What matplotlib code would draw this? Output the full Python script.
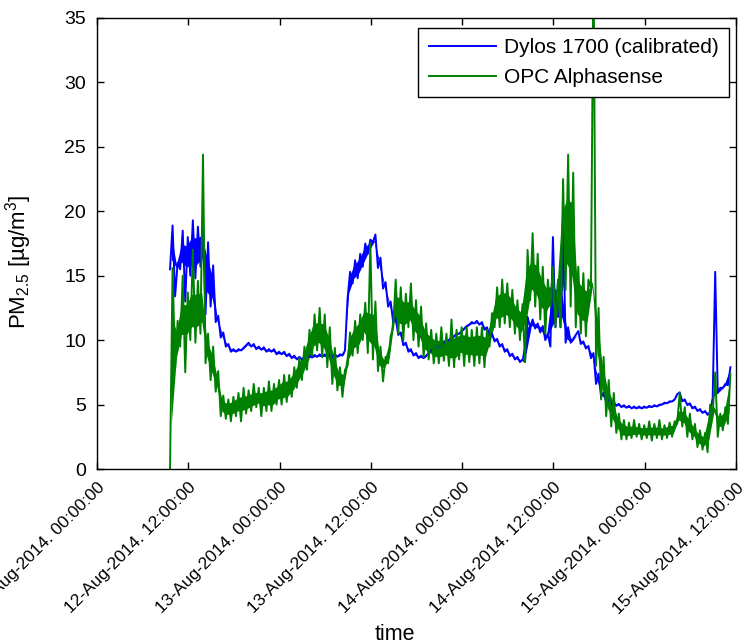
import numpy as np
import pandas as pd
import matplotlib
matplotlib.use("Agg")
import matplotlib.pyplot as plt
import matplotlib.dates as mdates

plt.rcParams["font.family"] = ["Liberation Sans", "DejaVu Sans"]

# ---------------------------------------------------------------------------
# Data: one sample every 40 min, low/high of the noise band
# ---------------------------------------------------------------------------
start = "2014-08-12 09:36"
n_samples = 111
step = "40min"

dylos_lo = [
    15.5, 13.4, 15.5, 13.0, 15.0, 14.8, 15.7, 12.0, 12.6, 11.4,
    10.2, 9.5, 9.1, 9.1, 9.2, 9.6, 9.5, 9.3, 9.25, 9.1,
    9.1, 8.9, 8.9, 8.75, 8.6, 8.5, 8.5, 8.6, 8.65, 8.7,
    8.7, 8.7, 8.7, 8.7, 8.8, 13.2, 14.4, 14.8, 15.7, 16.7,
    17.6, 15.6, 14.0, 12.6, 11.4, 10.4, 9.6, 9.1, 8.8, 8.6,
    8.6, 9.0, 9.25, 9.5, 9.8, 10.0, 10.3, 10.5, 10.9, 11.2,
    11.3, 11.2, 10.8, 10.3, 9.9, 9.5, 9.1, 8.75, 8.5, 8.3,
    8.3, 11.0, 10.9, 10.6, 10.0, 9.5, 11.0, 11.0, 9.8, 9.8,
    10.4, 9.7, 9.35, 8.6, 6.6, 5.6, 5.2, 5.0, 4.9, 4.8,
    4.75, 4.7, 4.7, 4.7, 4.75, 4.8, 4.85, 5.0, 5.1, 5.25,
    5.8, 5.25, 4.95, 4.7, 4.5, 4.35, 4.2, 5.5, 5.9, 6.3, 6.5,
]
dylos_hi = [
    18.9, 16.0, 18.5, 18.0, 19.3, 18.8, 18.9, 17.6, 15.8, 11.9,
    10.6, 9.7, 9.3, 9.3, 9.4, 9.8, 9.7, 9.5, 9.45, 9.3,
    9.3, 9.1, 9.1, 8.95, 8.8, 8.7, 8.7, 8.8, 8.85, 8.9,
    8.9, 8.9, 8.9, 8.9, 9.2, 15.3, 16.2, 16.7, 17.5, 17.8,
    18.2, 16.4, 14.5, 13.0, 11.7, 10.6, 9.8, 9.3, 9.0, 8.8,
    8.8, 9.2, 9.45, 9.7, 10.0, 10.2, 10.5, 10.7, 11.1, 11.4,
    11.5, 11.4, 11.0, 10.5, 10.1, 9.7, 9.3, 8.95, 8.7, 8.5,
    11.8, 11.6, 11.3, 11.1, 10.5, 18.0, 14.5, 19.5, 11.0, 10.1,
    10.7, 9.9, 9.55, 9.0, 7.4, 5.9, 5.4, 5.2, 5.05, 4.95,
    4.9, 4.85, 4.85, 4.85, 4.9, 4.95, 5.0, 5.15, 5.25, 5.4,
    5.95, 5.4, 5.1, 4.85, 4.65, 4.5, 4.4, 15.3, 6.3, 6.6, 7.9,
]
opc_lo = [
    0.0, 7.8, 9.5, 7.5, 10.0, 9.8, 10.5, 8.2, 6.9, 6.0,
    4.1, 3.9, 3.7, 4.1, 3.7, 4.3, 4.5, 4.8, 4.1, 4.5,
    4.5, 5.0, 5.0, 5.2, 5.6, 6.3, 6.9, 7.7, 8.8, 9.2,
    8.7, 7.9, 6.6, 6.1, 5.6, 8.0, 8.8, 9.0, 10.0, 9.0,
    8.5, 7.6, 6.8, 8.2, 11.0, 10.5, 10.0, 11.0, 10.0, 9.5,
    8.7, 8.5, 8.2, 8.2, 8.4, 8.0, 7.9, 8.5, 8.0, 8.3,
    8.0, 8.2, 7.9, 9.5, 11.0, 11.0, 11.3, 11.0, 10.5, 10.0,
    8.3, 13.1, 12.6, 11.6, 10.5, 12.6, 11.0, 11.0, 13.9, 12.6,
    11.0, 10.5, 10.3, 14.0, 8.0, 5.4, 4.1, 3.3, 2.8, 2.3,
    2.3, 2.4, 2.5, 2.3, 2.4, 2.2, 2.4, 2.3, 2.4, 2.5,
    3.5, 3.3, 2.5, 2.3, 1.7, 1.5, 1.3, 4.3, 2.5, 3.0, 3.5,
]
opc_hi = [
    15.6, 11.5, 15.0, 13.7, 17.0, 14.6, 24.4, 10.5, 9.5, 7.6,
    5.7, 5.4, 5.6, 5.9, 6.3, 6.1, 6.6, 6.3, 6.3, 6.8,
    6.6, 6.9, 7.3, 7.3, 7.9, 8.6, 9.5, 10.8, 12.0, 12.5,
    12.0, 11.0, 9.4, 7.9, 7.7, 10.6, 11.5, 12.0, 12.9, 17.5,
    13.0, 9.5, 8.7, 10.3, 14.7, 14.1, 13.6, 14.4, 13.1, 12.6,
    11.3, 10.8, 10.5, 11.0, 10.5, 11.6, 10.8, 11.0, 11.0, 10.8,
    11.0, 11.0, 10.8, 12.1, 14.1, 14.7, 14.4, 13.9, 13.1, 12.8,
    17.0, 18.3, 16.7, 15.7, 14.7, 15.7, 14.7, 22.5, 24.4, 23.0,
    15.7, 15.2, 14.7, 40.0, 12.5, 8.7, 6.9, 5.9, 4.3, 3.8,
    3.6, 3.8, 3.5, 3.4, 3.7, 3.5, 3.8, 3.4, 3.6, 3.7,
    5.9, 4.8, 4.3, 3.5, 3.0, 2.8, 5.0, 7.5, 4.3, 4.8, 7.4,
]

labels = ["Dylos 1700 (calibrated)", "OPC Alphasense"]
colors = ["#0000ff", "#008000"]

# ---------------------------------------------------------------------------
# Zig-zag trace (low at sample time, high half a step later) + thin filled core
# ---------------------------------------------------------------------------
t = pd.date_range(start, periods=n_samples, freq=step).values
half = pd.Timedelta(step).to_timedelta64() / 2
t_zig = np.column_stack([t, t + half]).ravel()


def zig(lo, hi):
    return np.column_stack([lo, hi]).ravel()


def core(lo, hi, keep=0.55):
    # middle part of the band, without isolated spikes
    lo = np.asarray(lo, float)
    hi = np.asarray(hi, float)
    lp = np.pad(lo, 1, mode="edge")
    hp = np.pad(hi, 1, mode="edge")
    low = np.maximum(lo, np.minimum(lp[:-2], lp[2:]))
    up = np.maximum(np.minimum(hi, np.maximum(hp[:-2], hp[2:])), low)
    mid = (low + up) / 2
    w = (up - low) * keep / 2
    return mid - w, mid + w


fig = plt.figure(figsize=(7.43, 6.44), dpi=100)
ax = fig.add_axes([97 / 743, 1 - 469 / 644, 639 / 743, 451 / 644])

for lo, hi, c, lab in [(dylos_lo, dylos_hi, colors[0], labels[0]),
                       (opc_lo, opc_hi, colors[1], labels[1])]:
    low, up = core(lo, hi)
    ax.fill_between(t + half / 2, low, up, color=c, lw=0)
    ax.plot(t_zig, zig(lo, hi), color=c, lw=1.4, label=lab)

ax.set_xlim(pd.Timestamp("2014-08-12 00:00"), pd.Timestamp("2014-08-15 12:00"))
ax.set_ylim(0, 35)
ax.set_yticks(np.arange(0, 36, 5))
ax.xaxis.set_major_locator(mdates.HourLocator(byhour=[0, 12]))
ax.xaxis.set_major_formatter(mdates.DateFormatter("%d-%b-%Y. %H:%M:%S"))

ax.tick_params(direction="in", top=True, right=True, length=5, width=1,
               colors="black")
ax.tick_params(axis="y", labelsize=14, pad=8)
ax.tick_params(axis="x", labelsize=12.5, pad=8)
for lab in ax.get_xticklabels():
    lab.set_rotation(45)
    lab.set_ha("right")
    lab.set_va("top")
    lab.set_rotation_mode("anchor")
for sp in ax.spines.values():
    sp.set_linewidth(1)

ax.set_ylabel(r"PM$\mathregular{_{2.5}}$ [µg/m$\mathregular{^3}$]", fontsize=16)
ax.yaxis.set_label_coords((34 - 97) / 639, (469 - 262) / 451)
ax.set_xlabel("time", fontsize=15.5)
ax.xaxis.set_label_coords((395 - 97) / 639, (469 - 624) / 451)

leg = ax.legend(loc="upper right", bbox_to_anchor=((729 - 97) / 639, (469 - 28) / 451),
                borderaxespad=0, fancybox=False, framealpha=1, edgecolor="black",
                fontsize=15, handlelength=3.2, handletextpad=0.4,
                labelspacing=0.5, borderpad=0.5)
leg.get_frame().set_linewidth(1)

fig.savefig("out.png", dpi=100)
plt.close(fig)
